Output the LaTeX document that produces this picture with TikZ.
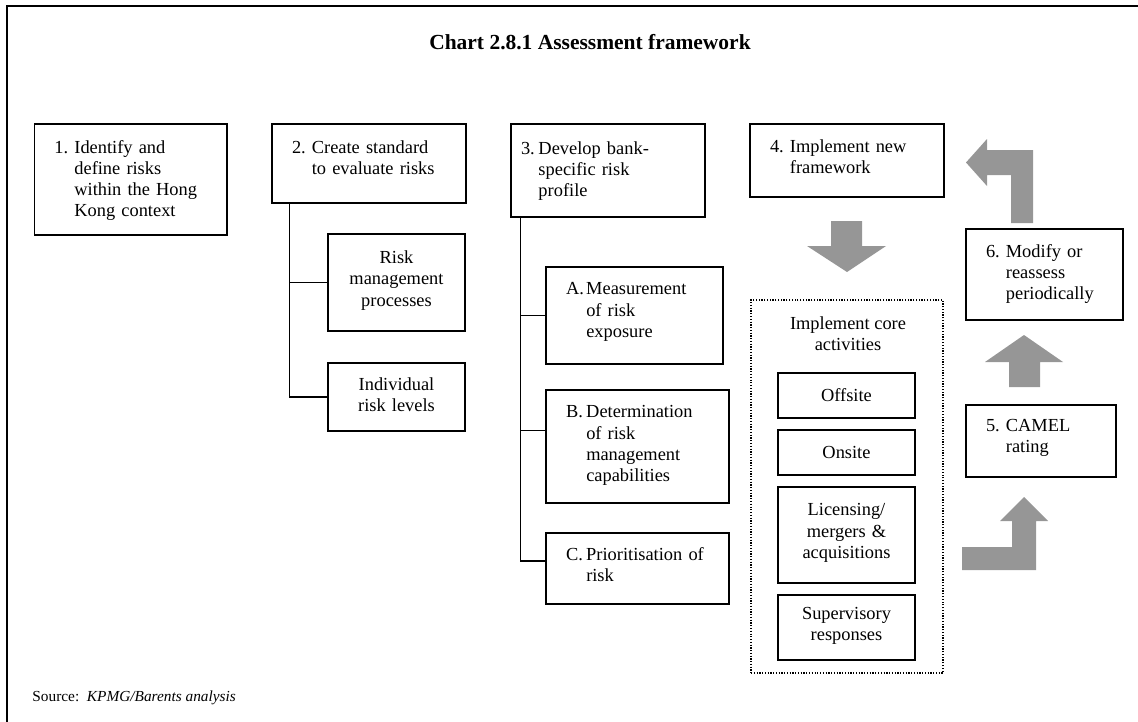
\documentclass[tikz,border=0pt]{standalone}
\usepackage{fontspec}
\setmainfont{Liberation Serif}
\usetikzlibrary{fit, calc}

\definecolor{arrowgray}{RGB}{150,150,150}
% one unit of the drawing, for box and text widths
\newdimen\pxu \pxu=0.652pt
\setlength{\parindent}{0pt}
% numbered step: the number hangs, the following lines line up with the text
\newcommand{\stepno}[3][1.08em]{\makebox[#1][l]{#2}\parbox[t]{\dimexpr\hsize-#1\relax}{#3}}
% room under the text of a box: more lifts the text, less lowers it
\newcommand{\textgap}[1]{\par\vspace{#1\pxu}}

\begin{document}
\begin{tikzpicture}[
		x=0.652pt, y=-0.652pt,
		% Boxes
		box/.style={draw, line width=0.8pt, inner sep=0pt, font=\fontsize{12}{13.8}\selectfont},
		stepbox/.style={box, align=left, execute at end node={\textgap{#1}}},
		stepbox/.default=7,
		subbox/.style={box, align=center, execute at end node={\textgap{#1}}},
		subbox/.default=4,
		corebox/.style={draw, densely dotted, line width=0.8pt, inner sep=0pt},
		% Lines and block arrows
		link/.style={line width=0.7pt},
		blockarrow/.style={fill=arrowgray, draw=none},
		frame/.style={line width=1.3pt},
		% Title & Text
		mainTitle/.style={font=\fontsize{14}{16}\selectfont\bfseries, align=center},
		plain/.style={font=\fontsize{12}{13.8}\selectfont, align=center},
		note/.style={font=\fontsize{10}{12}\selectfont, anchor=west}
		]
		\useasboundingbox (0,0) rectangle (1138,722);
		\draw[frame] (7,722) -- (7,6) -- (1138,6);

		\node[mainTitle] (title) at (590,42) {Chart 2.8.1 Assessment framework};

		% STEPS 1 - 3
		\node[stepbox=-2, minimum width=192.5\pxu, minimum height=111\pxu, text width=152.5\pxu] (s1) at (130.75,179.5)
			{\stepno{1.}{Identify and\\define risks\\within the Hong\\Kong context}};
		\node[stepbox=11, minimum width=194\pxu, minimum height=79\pxu, text width=154\pxu] (s2) at (369,163.5)
			{\stepno{2.}{Create standard\\to evaluate risks}};
		\node[stepbox=-1, minimum width=194\pxu, minimum height=93\pxu, text width=174\pxu] (s3) at (608,170.5)
			{\stepno[0.95em]{3.}{Develop bank-\\specific risk\\profile}};

		% standards under step 2
		\node[subbox, minimum width=137\pxu, minimum height=97\pxu, text width=137\pxu] (rmp) at (396.5,282.5) {Risk\\management\\processes};
		\node[subbox, minimum width=137\pxu, minimum height=68\pxu, text width=137\pxu] (irl) at (396.5,397) {Individual\\risk levels};
		\draw[link] ($(s2.south west)+(18,0)$) |- (rmp.west);
		\draw[link] ($(s2.south west)+(18,0)$) |- (irl.west);

		% risk profile under step 3
		\node[stepbox, minimum width=177\pxu, minimum height=97\pxu, text width=137\pxu] (spA) at (634.5,315.5)
			{\stepno[1.1em]{A.}{Measurement\\of risk\\exposure}};
		\node[stepbox=2, minimum width=183\pxu, minimum height=113\pxu, text width=143\pxu] (spB) at (637.5,446.5)
			{\stepno[1.1em]{B.}{Determination\\of risk\\management\\capabilities}};
		\node[stepbox, minimum width=183\pxu, minimum height=71\pxu, text width=143\pxu] (spC) at (637.5,568.5)
			{\stepno[1.1em]{C.}{Prioritisation of\\risk}};
		\draw[link] ($(s3.south west)+(10,0)$) |- (spA.west);
		\draw[link] ($(s3.south west)+(10,0)$) |- ([yshift=16\pxu]spB.west);
		\draw[link] ($(s3.south west)+(10,0)$) |- ([yshift=7.5\pxu]spC.west);

		% STEP 4 and the core activities
		\node[stepbox, minimum width=194\pxu, minimum height=73\pxu, text width=154\pxu] (s4) at (847,160.5)
			{\stepno{4.}{Implement new\\framework}};
		\node[corebox, fit={(751,300) (943,673)}] (core) {};
		\node[plain] (coretitle) at (848,333.5) {Implement core\\activities};
		\node[subbox=-8, minimum width=137\pxu, minimum height=45\pxu, text width=137\pxu] (off) at (846.5,395.5) {Offsite};
		\node[subbox=-8, minimum width=137\pxu, minimum height=45\pxu, text width=137\pxu] (ons) at (846.5,452.5) {Onsite};
		\node[subbox, minimum width=137\pxu, minimum height=96\pxu, text width=137\pxu] (lic) at (846.5,535) {Licensing/\\mergers \&\\acquisitions};
		\node[subbox, minimum width=137\pxu, minimum height=65\pxu, text width=137\pxu] (srv) at (846.5,627.5) {Supervisory\\responses};

		% STEPS 5 and 6
		\node[stepbox, minimum width=150\pxu, minimum height=72\pxu, text width=110\pxu] (s5) at (1041,441)
			{\stepno{5.}{CAMEL\\rating}};
		\node[stepbox=1, minimum width=157\pxu, minimum height=91\pxu, text width=117\pxu] (s6) at (1044.5,274.5)
			{\stepno{6.}{Modify or\\reassess\\periodically}};

		% block arrows
		\fill[blockarrow] (831,221) -- (862,221) -- (862,246) -- (886,246) -- (847,272) -- (807,246) -- (831,246) -- cycle;
		\fill[blockarrow] (962,570) -- (1036,570) -- (1036,521) -- (1048,521) -- (1024,497) -- (1000,521) -- (1012,521) -- (1012,547) -- (962,547) -- cycle;
		\fill[blockarrow] (1009,387) -- (1040,387) -- (1040,362) -- (1063,362) -- (1024,335) -- (985,362) -- (1009,362) -- cycle;
		\fill[blockarrow] (1011,223) -- (1033,223) -- (1033,150) -- (987,150) -- (987,139) -- (966,162.5) -- (987,186) -- (987,175) -- (1011,175) -- cycle;

		\node[note] (src) at (27,698) {Source:\ \ \textit{KPMG/Barents analysis}};
	\end{tikzpicture}
\end{document}
